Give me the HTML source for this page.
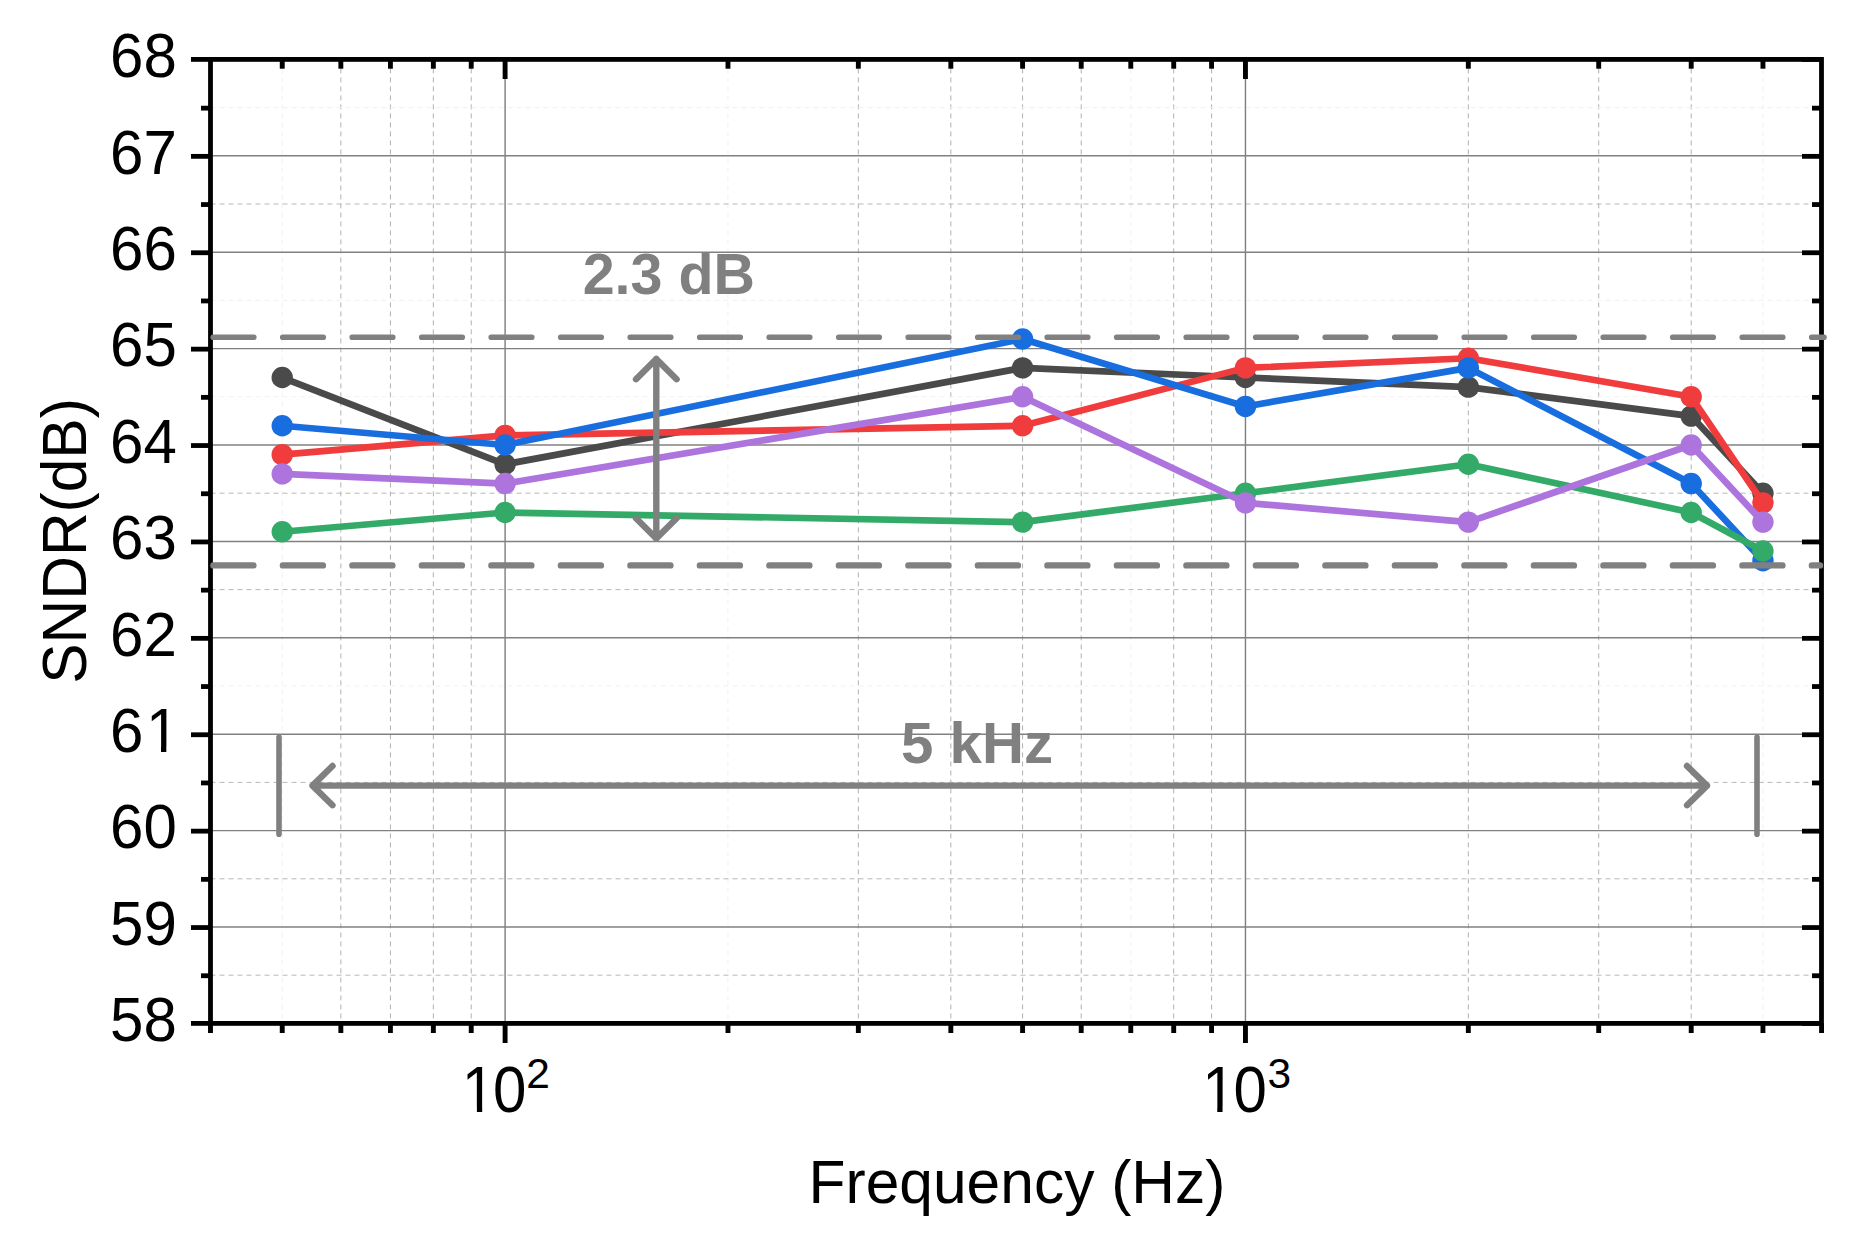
<!DOCTYPE html>
<html lang="en"><head><meta charset="utf-8"><title>SNDR vs Frequency</title>
<style>
html,body{margin:0;padding:0;background:#fff;}
body{width:1859px;height:1250px;overflow:hidden;}
svg{display:block;}
text{font-family:"Liberation Sans",Arial,Helvetica,sans-serif;}
.tk{font-size:60px;fill:#000;}
.ttl{font-size:60.5px;fill:#000;}
.sup{font-size:42.5px;fill:#000;}
.ann{font-size:57.4px;font-weight:bold;fill:#808080;}
</style></head><body>
<svg width="1859" height="1250" viewBox="0 0 1859 1250">
<rect x="0" y="0" width="1859" height="1250" fill="#ffffff"/>
<g id="grid" fill="none">
<line x1="282.23" y1="59.4" x2="282.23" y2="1023.4" stroke="#f2f2f2" stroke-width="1.1" stroke-dasharray="5 4"/>
<line x1="340.85" y1="59.4" x2="340.85" y2="1023.4" stroke="#b0b0b0" stroke-width="1" stroke-dasharray="5 4"/>
<line x1="390.42" y1="59.4" x2="390.42" y2="1023.4" stroke="#b0b0b0" stroke-width="1" stroke-dasharray="5 4"/>
<line x1="433.35" y1="59.4" x2="433.35" y2="1023.4" stroke="#b0b0b0" stroke-width="1" stroke-dasharray="5 4"/>
<line x1="471.22" y1="59.4" x2="471.22" y2="1023.4" stroke="#b0b0b0" stroke-width="1" stroke-dasharray="5 4"/>
<line x1="727.97" y1="59.4" x2="727.97" y2="1023.4" stroke="#f2f2f2" stroke-width="1.1" stroke-dasharray="5 4"/>
<line x1="858.34" y1="59.4" x2="858.34" y2="1023.4" stroke="#b0b0b0" stroke-width="1" stroke-dasharray="5 4"/>
<line x1="950.84" y1="59.4" x2="950.84" y2="1023.4" stroke="#b0b0b0" stroke-width="1" stroke-dasharray="5 4"/>
<line x1="1022.59" y1="59.4" x2="1022.59" y2="1023.4" stroke="#b0b0b0" stroke-width="1" stroke-dasharray="5 4"/>
<line x1="1081.21" y1="59.4" x2="1081.21" y2="1023.4" stroke="#b0b0b0" stroke-width="1" stroke-dasharray="5 4"/>
<line x1="1130.78" y1="59.4" x2="1130.78" y2="1023.4" stroke="#f2f2f2" stroke-width="1.1" stroke-dasharray="5 4"/>
<line x1="1173.71" y1="59.4" x2="1173.71" y2="1023.4" stroke="#b0b0b0" stroke-width="1" stroke-dasharray="5 4"/>
<line x1="1211.58" y1="59.4" x2="1211.58" y2="1023.4" stroke="#b0b0b0" stroke-width="1" stroke-dasharray="5 4"/>
<line x1="1468.33" y1="59.4" x2="1468.33" y2="1023.4" stroke="#b0b0b0" stroke-width="1" stroke-dasharray="5 4"/>
<line x1="1598.7" y1="59.4" x2="1598.7" y2="1023.4" stroke="#b0b0b0" stroke-width="1" stroke-dasharray="5 4"/>
<line x1="1691.2" y1="59.4" x2="1691.2" y2="1023.4" stroke="#b0b0b0" stroke-width="1" stroke-dasharray="5 4"/>
<line x1="1762.95" y1="59.4" x2="1762.95" y2="1023.4" stroke="#f2f2f2" stroke-width="1.1" stroke-dasharray="5 4"/>
<line x1="210.5" y1="975.2" x2="1821.5" y2="975.2" stroke="#b8b8b8" stroke-width="1" stroke-dasharray="5 4"/>
<line x1="210.5" y1="878.8" x2="1821.5" y2="878.8" stroke="#b8b8b8" stroke-width="1" stroke-dasharray="5 4"/>
<line x1="210.5" y1="782.4" x2="1821.5" y2="782.4" stroke="#b8b8b8" stroke-width="1" stroke-dasharray="5 4"/>
<line x1="210.5" y1="686" x2="1821.5" y2="686" stroke="#f2f2f2" stroke-width="1.1" stroke-dasharray="5 4"/>
<line x1="210.5" y1="589.6" x2="1821.5" y2="589.6" stroke="#b8b8b8" stroke-width="1" stroke-dasharray="5 4"/>
<line x1="210.5" y1="493.2" x2="1821.5" y2="493.2" stroke="#b8b8b8" stroke-width="1" stroke-dasharray="5 4"/>
<line x1="210.5" y1="396.8" x2="1821.5" y2="396.8" stroke="#f2f2f2" stroke-width="1.1" stroke-dasharray="5 4"/>
<line x1="210.5" y1="300.4" x2="1821.5" y2="300.4" stroke="#f2f2f2" stroke-width="1.1" stroke-dasharray="5 4"/>
<line x1="210.5" y1="204" x2="1821.5" y2="204" stroke="#b8b8b8" stroke-width="1" stroke-dasharray="5 4"/>
<line x1="210.5" y1="107.6" x2="1821.5" y2="107.6" stroke="#f2f2f2" stroke-width="1.1" stroke-dasharray="5 4"/>
<line x1="505.1" y1="59.4" x2="505.1" y2="1023.4" stroke="#808080" stroke-width="1.45"/>
<line x1="1245.46" y1="59.4" x2="1245.46" y2="1023.4" stroke="#808080" stroke-width="1.45"/>
<line x1="210.5" y1="927" x2="1821.5" y2="927" stroke="#808080" stroke-width="1.45"/>
<line x1="210.5" y1="830.6" x2="1821.5" y2="830.6" stroke="#808080" stroke-width="1.45"/>
<line x1="210.5" y1="734.2" x2="1821.5" y2="734.2" stroke="#808080" stroke-width="1.45"/>
<line x1="210.5" y1="637.8" x2="1821.5" y2="637.8" stroke="#808080" stroke-width="1.45"/>
<line x1="210.5" y1="541.4" x2="1821.5" y2="541.4" stroke="#808080" stroke-width="1.45"/>
<line x1="210.5" y1="445" x2="1821.5" y2="445" stroke="#808080" stroke-width="1.45"/>
<line x1="210.5" y1="348.6" x2="1821.5" y2="348.6" stroke="#808080" stroke-width="1.45"/>
<line x1="210.5" y1="252.2" x2="1821.5" y2="252.2" stroke="#808080" stroke-width="1.45"/>
<line x1="210.5" y1="155.8" x2="1821.5" y2="155.8" stroke="#808080" stroke-width="1.45"/>
</g>
<g id="data">
<polyline points="282.23,377.52 505.1,464.28 1022.59,367.88 1245.46,377.52 1468.33,387.16 1691.2,416.08 1762.95,493.2" fill="none" stroke="#4a4a4a" stroke-width="6.7" stroke-linejoin="round"/>
<circle cx="282.23" cy="377.52" r="10.7" fill="#4a4a4a"/>
<circle cx="505.1" cy="464.28" r="10.7" fill="#4a4a4a"/>
<circle cx="1022.59" cy="367.88" r="10.7" fill="#4a4a4a"/>
<circle cx="1245.46" cy="377.52" r="10.7" fill="#4a4a4a"/>
<circle cx="1468.33" cy="387.16" r="10.7" fill="#4a4a4a"/>
<circle cx="1691.2" cy="416.08" r="10.7" fill="#4a4a4a"/>
<circle cx="1762.95" cy="493.2" r="10.7" fill="#4a4a4a"/>
<polyline points="282.23,454.64 505.1,435.36 1022.59,425.72 1245.46,367.88 1468.33,358.24 1691.2,396.8 1762.95,502.84" fill="none" stroke="#f03c3c" stroke-width="6.7" stroke-linejoin="round"/>
<circle cx="282.23" cy="454.64" r="10.7" fill="#f03c3c"/>
<circle cx="505.1" cy="435.36" r="10.7" fill="#f03c3c"/>
<circle cx="1022.59" cy="425.72" r="10.7" fill="#f03c3c"/>
<circle cx="1245.46" cy="367.88" r="10.7" fill="#f03c3c"/>
<circle cx="1468.33" cy="358.24" r="10.7" fill="#f03c3c"/>
<circle cx="1691.2" cy="396.8" r="10.7" fill="#f03c3c"/>
<circle cx="1762.95" cy="502.84" r="10.7" fill="#f03c3c"/>
<polyline points="282.23,425.72 505.1,445 1022.59,338.96 1245.46,406.44 1468.33,367.88 1691.2,483.56 1762.95,560.68" fill="none" stroke="#186ddf" stroke-width="6.7" stroke-linejoin="round"/>
<circle cx="282.23" cy="425.72" r="10.7" fill="#186ddf"/>
<circle cx="505.1" cy="445" r="10.7" fill="#186ddf"/>
<circle cx="1022.59" cy="338.96" r="10.7" fill="#186ddf"/>
<circle cx="1245.46" cy="406.44" r="10.7" fill="#186ddf"/>
<circle cx="1468.33" cy="367.88" r="10.7" fill="#186ddf"/>
<circle cx="1691.2" cy="483.56" r="10.7" fill="#186ddf"/>
<circle cx="1762.95" cy="560.68" r="10.7" fill="#186ddf"/>
<polyline points="282.23,531.76 505.1,512.48 1022.59,522.12 1245.46,493.2 1468.33,464.28 1691.2,512.48 1762.95,551.04" fill="none" stroke="#34aa68" stroke-width="6.7" stroke-linejoin="round"/>
<circle cx="282.23" cy="531.76" r="10.7" fill="#34aa68"/>
<circle cx="505.1" cy="512.48" r="10.7" fill="#34aa68"/>
<circle cx="1022.59" cy="522.12" r="10.7" fill="#34aa68"/>
<circle cx="1245.46" cy="493.2" r="10.7" fill="#34aa68"/>
<circle cx="1468.33" cy="464.28" r="10.7" fill="#34aa68"/>
<circle cx="1691.2" cy="512.48" r="10.7" fill="#34aa68"/>
<circle cx="1762.95" cy="551.04" r="10.7" fill="#34aa68"/>
<polyline points="282.23,473.92 505.1,483.56 1022.59,396.8 1245.46,502.84 1468.33,522.12 1691.2,445 1762.95,522.12" fill="none" stroke="#ae74de" stroke-width="6.7" stroke-linejoin="round"/>
<circle cx="282.23" cy="473.92" r="10.7" fill="#ae74de"/>
<circle cx="505.1" cy="483.56" r="10.7" fill="#ae74de"/>
<circle cx="1022.59" cy="396.8" r="10.7" fill="#ae74de"/>
<circle cx="1245.46" cy="502.84" r="10.7" fill="#ae74de"/>
<circle cx="1468.33" cy="522.12" r="10.7" fill="#ae74de"/>
<circle cx="1691.2" cy="445" r="10.7" fill="#ae74de"/>
<circle cx="1762.95" cy="522.12" r="10.7" fill="#ae74de"/>
</g>
<g id="axes" stroke="#000" fill="none" stroke-linecap="butt">
<rect x="210.5" y="59.4" width="1611" height="964" stroke-width="4.8"/>
<line x1="191" y1="1023.4" x2="210.5" y2="1023.4" stroke-width="4.8"/>
<line x1="1802" y1="1023.4" x2="1821.5" y2="1023.4" stroke-width="4.8"/>
<line x1="201" y1="975.75" x2="210.5" y2="975.75" stroke-width="4.8"/>
<line x1="1812" y1="975.75" x2="1821.5" y2="975.75" stroke-width="4.8"/>
<line x1="191" y1="927.55" x2="210.5" y2="927.55" stroke-width="4.8"/>
<line x1="1802" y1="927.55" x2="1821.5" y2="927.55" stroke-width="4.8"/>
<line x1="201" y1="879.35" x2="210.5" y2="879.35" stroke-width="4.8"/>
<line x1="1812" y1="879.35" x2="1821.5" y2="879.35" stroke-width="4.8"/>
<line x1="191" y1="831.15" x2="210.5" y2="831.15" stroke-width="4.8"/>
<line x1="1802" y1="831.15" x2="1821.5" y2="831.15" stroke-width="4.8"/>
<line x1="201" y1="782.95" x2="210.5" y2="782.95" stroke-width="4.8"/>
<line x1="1812" y1="782.95" x2="1821.5" y2="782.95" stroke-width="4.8"/>
<line x1="191" y1="734.75" x2="210.5" y2="734.75" stroke-width="4.8"/>
<line x1="1802" y1="734.75" x2="1821.5" y2="734.75" stroke-width="4.8"/>
<line x1="201" y1="686.55" x2="210.5" y2="686.55" stroke-width="4.8"/>
<line x1="1812" y1="686.55" x2="1821.5" y2="686.55" stroke-width="4.8"/>
<line x1="191" y1="638.35" x2="210.5" y2="638.35" stroke-width="4.8"/>
<line x1="1802" y1="638.35" x2="1821.5" y2="638.35" stroke-width="4.8"/>
<line x1="201" y1="590.15" x2="210.5" y2="590.15" stroke-width="4.8"/>
<line x1="1812" y1="590.15" x2="1821.5" y2="590.15" stroke-width="4.8"/>
<line x1="191" y1="541.95" x2="210.5" y2="541.95" stroke-width="4.8"/>
<line x1="1802" y1="541.95" x2="1821.5" y2="541.95" stroke-width="4.8"/>
<line x1="201" y1="493.75" x2="210.5" y2="493.75" stroke-width="4.8"/>
<line x1="1812" y1="493.75" x2="1821.5" y2="493.75" stroke-width="4.8"/>
<line x1="191" y1="445.55" x2="210.5" y2="445.55" stroke-width="4.8"/>
<line x1="1802" y1="445.55" x2="1821.5" y2="445.55" stroke-width="4.8"/>
<line x1="201" y1="397.35" x2="210.5" y2="397.35" stroke-width="4.8"/>
<line x1="1812" y1="397.35" x2="1821.5" y2="397.35" stroke-width="4.8"/>
<line x1="191" y1="349.15" x2="210.5" y2="349.15" stroke-width="4.8"/>
<line x1="1802" y1="349.15" x2="1821.5" y2="349.15" stroke-width="4.8"/>
<line x1="201" y1="300.95" x2="210.5" y2="300.95" stroke-width="4.8"/>
<line x1="1812" y1="300.95" x2="1821.5" y2="300.95" stroke-width="4.8"/>
<line x1="191" y1="252.75" x2="210.5" y2="252.75" stroke-width="4.8"/>
<line x1="1802" y1="252.75" x2="1821.5" y2="252.75" stroke-width="4.8"/>
<line x1="201" y1="204.55" x2="210.5" y2="204.55" stroke-width="4.8"/>
<line x1="1812" y1="204.55" x2="1821.5" y2="204.55" stroke-width="4.8"/>
<line x1="191" y1="156.35" x2="210.5" y2="156.35" stroke-width="4.8"/>
<line x1="1802" y1="156.35" x2="1821.5" y2="156.35" stroke-width="4.8"/>
<line x1="201" y1="108.15" x2="210.5" y2="108.15" stroke-width="4.8"/>
<line x1="1812" y1="108.15" x2="1821.5" y2="108.15" stroke-width="4.8"/>
<line x1="191" y1="59.4" x2="210.5" y2="59.4" stroke-width="4.8"/>
<line x1="1802" y1="59.4" x2="1821.5" y2="59.4" stroke-width="4.8"/>
<line x1="210.48" y1="1023.4" x2="210.48" y2="1033" stroke-width="4.9"/>
<line x1="282.23" y1="1023.4" x2="282.23" y2="1033" stroke-width="4.9"/>
<line x1="282.23" y1="59.4" x2="282.23" y2="68.7" stroke-width="4.9"/>
<line x1="340.85" y1="1023.4" x2="340.85" y2="1033" stroke-width="4.9"/>
<line x1="340.85" y1="59.4" x2="340.85" y2="68.7" stroke-width="4.9"/>
<line x1="390.42" y1="1023.4" x2="390.42" y2="1033" stroke-width="4.9"/>
<line x1="390.42" y1="59.4" x2="390.42" y2="68.7" stroke-width="4.9"/>
<line x1="433.35" y1="1023.4" x2="433.35" y2="1033" stroke-width="4.9"/>
<line x1="433.35" y1="59.4" x2="433.35" y2="68.7" stroke-width="4.9"/>
<line x1="471.22" y1="1023.4" x2="471.22" y2="1033" stroke-width="4.9"/>
<line x1="471.22" y1="59.4" x2="471.22" y2="68.7" stroke-width="4.9"/>
<line x1="727.97" y1="1023.4" x2="727.97" y2="1033" stroke-width="4.9"/>
<line x1="727.97" y1="59.4" x2="727.97" y2="68.7" stroke-width="4.9"/>
<line x1="858.34" y1="1023.4" x2="858.34" y2="1033" stroke-width="4.9"/>
<line x1="858.34" y1="59.4" x2="858.34" y2="68.7" stroke-width="4.9"/>
<line x1="950.84" y1="1023.4" x2="950.84" y2="1033" stroke-width="4.9"/>
<line x1="950.84" y1="59.4" x2="950.84" y2="68.7" stroke-width="4.9"/>
<line x1="1022.59" y1="1023.4" x2="1022.59" y2="1033" stroke-width="4.9"/>
<line x1="1022.59" y1="59.4" x2="1022.59" y2="68.7" stroke-width="4.9"/>
<line x1="1081.21" y1="1023.4" x2="1081.21" y2="1033" stroke-width="4.9"/>
<line x1="1081.21" y1="59.4" x2="1081.21" y2="68.7" stroke-width="4.9"/>
<line x1="1130.78" y1="1023.4" x2="1130.78" y2="1033" stroke-width="4.9"/>
<line x1="1130.78" y1="59.4" x2="1130.78" y2="68.7" stroke-width="4.9"/>
<line x1="1173.71" y1="1023.4" x2="1173.71" y2="1033" stroke-width="4.9"/>
<line x1="1173.71" y1="59.4" x2="1173.71" y2="68.7" stroke-width="4.9"/>
<line x1="1211.58" y1="1023.4" x2="1211.58" y2="1033" stroke-width="4.9"/>
<line x1="1211.58" y1="59.4" x2="1211.58" y2="68.7" stroke-width="4.9"/>
<line x1="1468.33" y1="1023.4" x2="1468.33" y2="1033" stroke-width="4.9"/>
<line x1="1468.33" y1="59.4" x2="1468.33" y2="68.7" stroke-width="4.9"/>
<line x1="1598.7" y1="1023.4" x2="1598.7" y2="1033" stroke-width="4.9"/>
<line x1="1598.7" y1="59.4" x2="1598.7" y2="68.7" stroke-width="4.9"/>
<line x1="1691.2" y1="1023.4" x2="1691.2" y2="1033" stroke-width="4.9"/>
<line x1="1691.2" y1="59.4" x2="1691.2" y2="68.7" stroke-width="4.9"/>
<line x1="1762.95" y1="1023.4" x2="1762.95" y2="1033" stroke-width="4.9"/>
<line x1="1762.95" y1="59.4" x2="1762.95" y2="68.7" stroke-width="4.9"/>
<line x1="1821.57" y1="1023.4" x2="1821.57" y2="1033" stroke-width="4.9"/>
<line x1="505.1" y1="1023.4" x2="505.1" y2="1043" stroke-width="4.9"/>
<line x1="505.1" y1="59.4" x2="505.1" y2="79" stroke-width="4.9"/>
<line x1="1245.46" y1="1023.4" x2="1245.46" y2="1043" stroke-width="4.9"/>
<line x1="1245.46" y1="59.4" x2="1245.46" y2="79" stroke-width="4.9"/>
</g>
<g id="annot" stroke="#808080" fill="none">
<line x1="213.2" y1="337.2" x2="1824" y2="337.2" stroke-width="5.6" stroke-linecap="round" stroke-dasharray="40.6 28.9"/>
<line x1="213.4" y1="565.4" x2="1820" y2="565.4" stroke-width="6.4" stroke-linecap="round" stroke-dasharray="40 29.5"/>
<path d="M656.3 359 V538.5 M636 379.2 L656.3 359 L676.6 379.2 M636 518.3 L656.3 538.5 L676.6 518.3" stroke-width="6.4" stroke-linecap="round" stroke-linejoin="round"/>
<path d="M312.5 785.6 H1707 M332.5 766 L312.5 785.6 L332.5 805.2 M1687 766 L1707 785.6 L1687 805.2" stroke-width="6.4" stroke-linecap="round" stroke-linejoin="round"/>
<path d="M279 737.2 V834.3 M1757 737.2 V834.3" stroke-width="5.6" stroke-linecap="round"/>
</g>
<text class="ann" x="582.7" y="293.7">2.3 dB</text>
<text class="ann" x="901" y="763" style="font-size:58.2px">5 kHz</text>
<g id="ylabels">
<text class="tk" transform="translate(110.06 1041.1) scale(1 1.044)">58</text>
<text class="tk" transform="translate(110.06 944.7) scale(1 1.044)">59</text>
<text class="tk" transform="translate(110.06 848.3) scale(1 1.044)">60</text>
<clipPath id="c61"><rect x="-3" y="-52" width="74.74" height="47.1"/><rect x="0.8" y="-6" width="32.97" height="10"/><rect x="50.97" y="-6" width="5.3" height="6.3"/></clipPath>
<text class="tk" clip-path="url(#c61)" transform="translate(110.06 751.9) scale(1 1.044)">6<tspan dx="2.5">1</tspan></text>
<text class="tk" transform="translate(110.06 655.5) scale(1 1.044)">62</text>
<text class="tk" transform="translate(110.06 559.1) scale(1 1.044)">63</text>
<text class="tk" transform="translate(110.06 462.7) scale(1 1.044)">64</text>
<text class="tk" transform="translate(110.06 366.3) scale(1 1.044)">65</text>
<text class="tk" transform="translate(110.06 269.9) scale(1 1.044)">66</text>
<text class="tk" transform="translate(110.06 173.5) scale(1 1.044)">67</text>
<text class="tk" transform="translate(110.06 77.1) scale(1 1.044)">68</text>
</g>
<g id="xlabels">
<clipPath id="c10"><rect x="-3" y="-52" width="74.74" height="47.1"/><rect x="17.2" y="-6" width="5.3" height="6.3"/><rect x="34.17" y="-6" width="32.97" height="10"/></clipPath>
<text class="tk" clip-path="url(#c10)" transform="translate(459.7 1112.1) scale(1 1.075)"><tspan dx="2.1">1</tspan><tspan dx="-2.1">0</tspan></text>
<text class="sup" transform="translate(526.15 1087.8) scale(1 1.02)">2</text>
<text class="tk" clip-path="url(#c10)" transform="translate(1200.06 1112.1) scale(1 1.075)"><tspan dx="2.1">1</tspan><tspan dx="-2.1">0</tspan></text>
<text class="sup" transform="translate(1267.51 1087.8) scale(1 1.02)">3</text>
</g>
<text class="ttl" x="1017" y="1202.7" text-anchor="middle">Frequency (Hz)</text>
<text class="ttl" transform="translate(86.2 541) rotate(-90) scale(1 1.05)" text-anchor="middle">SNDR(dB)</text>
</svg>
</body></html>
